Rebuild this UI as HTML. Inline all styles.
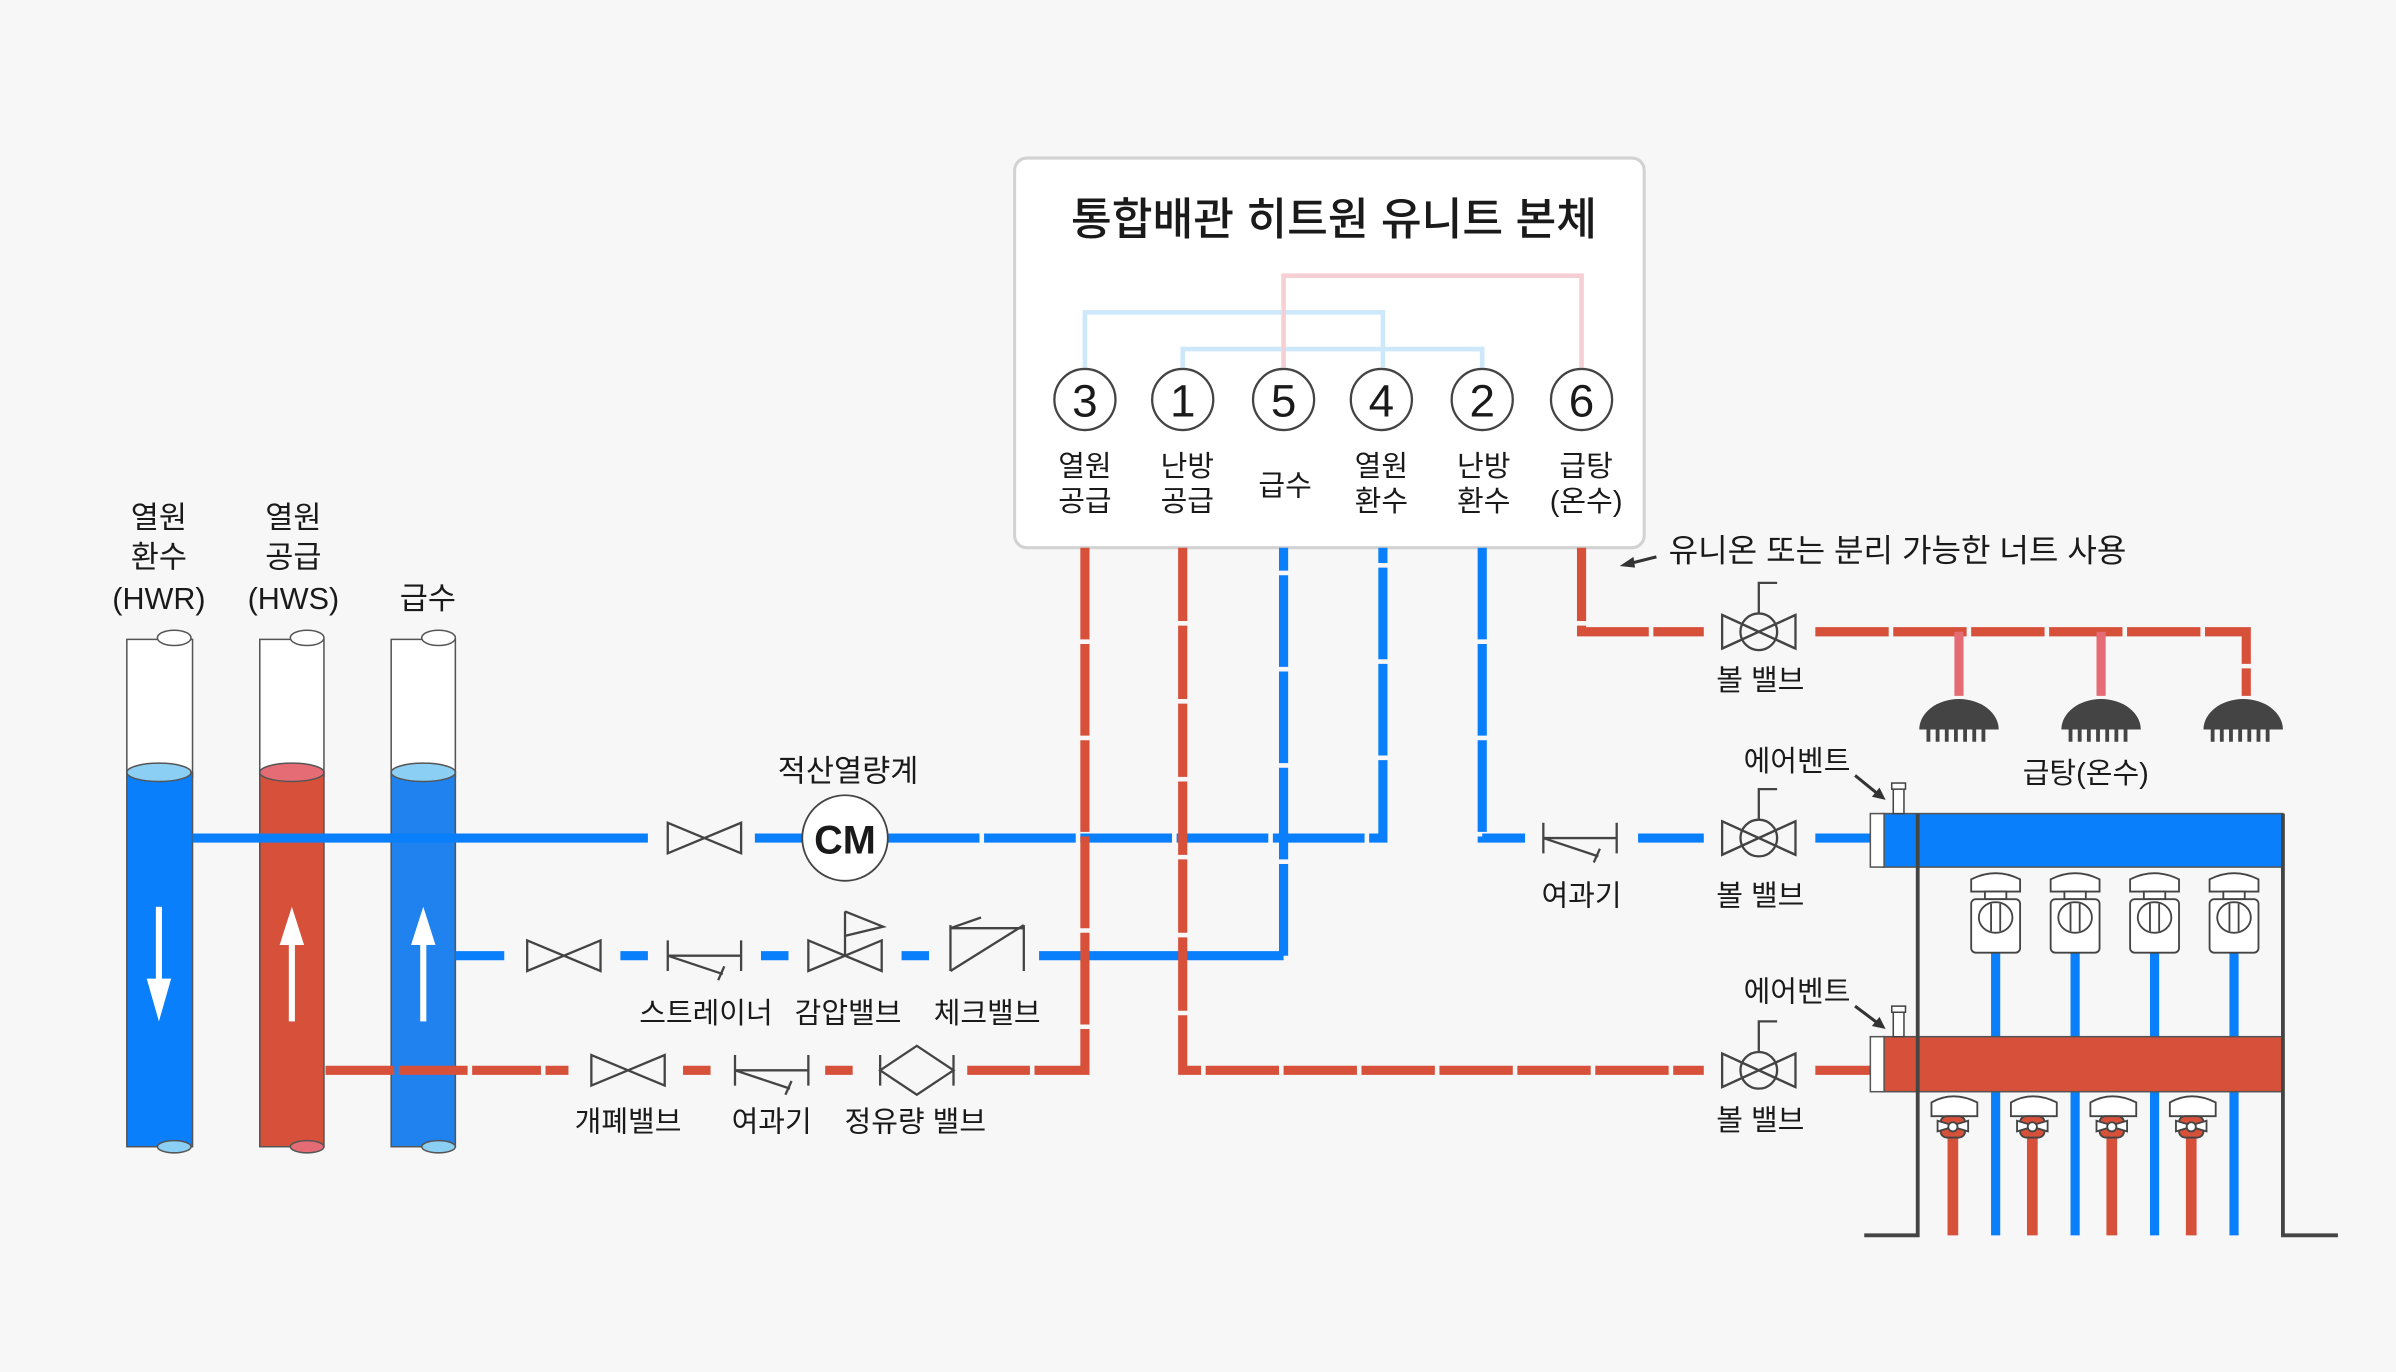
<!DOCTYPE html>
<html><head><meta charset="utf-8"><style>
html,body{margin:0;padding:0;background:#f7f7f7;}
svg{display:block}
text{font-family:"Liberation Sans","Noto Sans CJK KR",sans-serif;fill:#1a1a1a}
</style></head><body>
<svg width="2396" height="1372" viewBox="0 0 1568 897" xmlns="http://www.w3.org/2000/svg">
<defs>
<g id="bow"><path d="M0,-10 L48,10 L48,-10 L0,10 Z" fill="none" stroke="#444" stroke-width="1.5"/></g>
<g id="strainer" fill="none" stroke="#444" stroke-width="1.5"><path d="M0,-10V10M48,-10V10M0,0H48M0,0L36,12M33,16L37,7"/></g>
<g id="ball" fill="none" stroke="#444" stroke-width="1.5"><path d="M0,-11 L48,11 L48,-11 L0,11 Z" fill="#f7f7f7"/><circle cx="24" cy="0" r="12"/><path d="M0,-11 L48,11 M48,-11 L0,11"/><path d="M24,-12V-32H36"/></g>
</defs>
<rect width="1568" height="897" fill="#f7f7f7"/>
<rect x="664" y="103" width="412" height="255" rx="8" fill="#fff" stroke="#d2d2d2" stroke-width="2"/>
<text x="873" y="153" font-size="29" text-anchor="middle" font-weight="500">통합배관 히트원 유니트 본체</text>
<g fill="none" stroke-width="3">
<path d="M710,240V204H905V240" stroke="#cde8fa"/>
<path d="M774,240V228H970V240" stroke="#cde8fa"/>
<path d="M840,240V180H1035V240" stroke="#f6cfd5"/>
</g>
<g fill="#fff" stroke="#444" stroke-width="1.5">
<circle cx="710" cy="261" r="20"/><circle cx="774" cy="261" r="20"/><circle cx="840" cy="261" r="20"/><circle cx="904" cy="261" r="20"/><circle cx="970" cy="261" r="20"/><circle cx="1035" cy="261" r="20"/>
</g>
<g font-size="30" text-anchor="middle"><text x="710" y="272">3</text><text x="774" y="272">1</text><text x="840" y="272">5</text><text x="904" y="272">4</text><text x="970" y="272">2</text><text x="1035" y="272">6</text></g>
<g font-size="19" text-anchor="middle">
<text x="710" y="311">열원</text><text x="710" y="334">공급</text>
<text x="777" y="311">난방</text><text x="777" y="334">공급</text>
<text x="841" y="324">급수</text>
<text x="904" y="311">열원</text><text x="904" y="334">환수</text>
<text x="971" y="311">난방</text><text x="971" y="334">환수</text>
<text x="1038" y="311">급탕</text><text x="1038" y="334">(온수)</text>
</g>
<text x="1092" y="367" font-size="21">유니온 또는 분리 가능한 너트 사용</text>
<path d="M1084,364L1064,369" stroke="#333" stroke-width="2"/><path d="M1060,370l9,-6l1,7z" fill="#333"/>
<g stroke="#555" stroke-width="1">
<rect x="83" y="418" width="43" height="90" fill="#fff"/><rect x="83" y="505" width="43" height="245" fill="#0a7ffb"/>
<rect x="170" y="418" width="42" height="90" fill="#fff"/><rect x="170" y="505" width="42" height="245" fill="#d6503a"/>
<rect x="256" y="418" width="42" height="90" fill="#fff"/><rect x="256" y="505" width="42" height="245" fill="#1f82ee"/>
</g>
<g stroke="#555" stroke-width="1">
<ellipse cx="114" cy="417" rx="11" ry="5" fill="#fff"/><ellipse cx="201" cy="417" rx="11" ry="5" fill="#fff"/><ellipse cx="287" cy="417" rx="11" ry="5" fill="#fff"/>
<ellipse cx="104" cy="505" rx="21" ry="6" fill="#8ccff5"/><ellipse cx="191" cy="505" rx="21" ry="6" fill="#e56c74"/><ellipse cx="277" cy="505" rx="21" ry="6" fill="#8ccff5"/>
<ellipse cx="114" cy="750" rx="11" ry="4" fill="#8ccff5"/><ellipse cx="201" cy="750" rx="11" ry="4" fill="#e56c74"/><ellipse cx="287" cy="750" rx="11" ry="4" fill="#8ccff5"/>
</g>
<g fill="#fff"><rect x="102" y="593" width="4" height="50"/><path d="M96,640h16l-8,28z"/>
<rect x="189" y="615" width="4" height="53"/><path d="M183,618h16l-8,-25z"/>
<rect x="275" y="615" width="4" height="53"/><path d="M269,618h16l-8,-25z"/></g>
<g font-size="20" text-anchor="middle"><text x="104" y="345">열원</text><text x="104" y="371">환수</text><text x="104" y="398">(HWR)</text>
<text x="192" y="345">열원</text><text x="192" y="371">공급</text><text x="192" y="398">(HWS)</text><text x="280" y="398">급수</text></g>
<g fill="none" stroke-width="6" stroke-linecap="butt">
<path d="M126,548H424M494,548H525" stroke="#0a7ffb"/>
<path d="M581,548H905V358" stroke="#0a7ffb" stroke-dasharray="60 3"/>
<path d="M298,625H330M680,625H840" stroke="#0a7ffb"/>
<path d="M840,625V358" stroke="#0a7ffb" stroke-dasharray="60 3"/>
<path d="M970,358V548H998" stroke="#0a7ffb" stroke-dasharray="60 3"/>
<path d="M1072,548H1115M1188,548H1225" stroke="#0a7ffb"/>
<path d="M710,358V700H633" stroke="#d6503a" stroke-dasharray="60 3"/>
<path d="M213,700H372" stroke="#d6503a" stroke-dasharray="45 3"/>
<path d="M774,358V700H1115M1188,700H1225" stroke="#d6503a" stroke-dasharray="48 3"/>
<path d="M1035,358V413H1115M1188,413H1470V455" stroke="#d6503a" stroke-dasharray="48 3"/>
<path d="M1282,413V455M1375,413V455" stroke="#e56c74"/>
</g>
<g stroke="#0a7ffb" stroke-width="6"><path d="M406,625h18M498,625h18M590,625h18"/></g>
<g stroke="#d6503a" stroke-width="6"><path d="M447,700h18M540,700h18"/></g>
<use href="#bow" x="437" y="548"/>
<circle cx="553" cy="548" r="28" fill="#fff" stroke="#444" stroke-width="1.2"/>
<text x="553" y="558" font-size="26" text-anchor="middle" font-weight="bold">CM</text>
<text x="555" y="511" font-size="20" text-anchor="middle">적산열량계</text>
<use href="#bow" x="345" y="625"/>
<use href="#strainer" x="437" y="625"/>
<use href="#bow" x="529" y="625"/>
<path d="M553,625V596M553,596L578,606L553,612" fill="none" stroke="#444" stroke-width="1.5"/>
<path d="M622,635V605M670,635V605M622,635L670,605M622,607H670M622,607L642,600" fill="none" stroke="#444" stroke-width="1.5"/>
<g font-size="19" text-anchor="middle"><text x="462" y="669">스트레이너</text><text x="555" y="669">감압밸브</text><text x="646" y="669">체크밸브</text>
<text x="411" y="740">개폐밸브</text><text x="505" y="740">여과기</text><text x="599" y="740">정유량 밸브</text></g>
<use href="#bow" x="387" y="700"/>
<use href="#strainer" x="481" y="700"/>
<path d="M576,690V710M624,690V710M576,700L600,684L624,700L600,716Z" fill="none" stroke="#444" stroke-width="1.5"/>
<use href="#strainer" x="1010" y="548"/>
<text x="1035" y="592" font-size="19" text-anchor="middle">여과기</text>
<use href="#ball" x="1127" y="413"/><use href="#ball" x="1127" y="548"/><use href="#ball" x="1127" y="700"/>
<g font-size="19" text-anchor="middle"><text x="1152" y="451">볼 밸브</text><text x="1152" y="592">볼 밸브</text><text x="1152" y="739">볼 밸브</text>
<text x="1365" y="512">급탕(온수)</text><text x="1176" y="504">에어벤트</text><text x="1176" y="655">에어벤트</text></g>
<g fill="#444">
<path d="M1256,477a26,20 0 0 1 52,0z"/><path d="M1349,477a26,20 0 0 1 52,0z"/><path d="M1442,477a26,20 0 0 1 52,0z"/>
</g>
<g stroke="#444" stroke-width="2.5"><path d="M1262,477v8M1268,477v8M1274,477v8M1280,477v8M1286,477v8M1292,477v8M1298,477v8M1355,477v8M1361,477v8M1367,477v8M1373,477v8M1379,477v8M1385,477v8M1391,477v8M1448,477v8M1454,477v8M1460,477v8M1466,477v8M1472,477v8M1478,477v8M1484,477v8"/></g>
<g stroke-width="6"><path d="M1306,620V808M1358,620V808M1410,620V808M1462,620V808" stroke="#0a7ffb"/>
<path d="M1278,740V808M1330,740V808M1382,740V808M1434,740V808" stroke="#d6503a" stroke-width="7"/></g>
<rect x="1232" y="532" width="262" height="35" fill="#0a7ffb" stroke="#555"/>
<rect x="1232" y="678" width="262" height="36" fill="#d6503a" stroke="#555"/>
<rect x="1224" y="532" width="9" height="35" fill="#fff" stroke="#555"/>
<rect x="1224" y="678" width="9" height="36" fill="#fff" stroke="#555"/>
<g fill="#fff" stroke="#444" stroke-width="1"><rect x="1239" y="515" width="7" height="17"/><rect x="1238" y="512" width="9" height="4"/><rect x="1239" y="661" width="7" height="17"/><rect x="1238" y="658" width="9" height="4"/></g>
<g stroke="#333" stroke-width="2"><path d="M1214,507L1230,520M1214,658L1230,670"/></g>
<path d="M1234,523l-9,-2l5,-6zM1234,673l-9,-2l5,-6z" fill="#333"/>
<g fill="#fff" stroke="#444" stroke-width="1.2">
<g id="sv"><path d="M1290,575q16,-8 32,0v8h-32z"/><rect x="1299" y="583" width="14" height="5"/><rect x="1290" y="588" width="32" height="35" rx="3"/><ellipse cx="1306" cy="600" rx="11" ry="10"/><path d="M1303,591v18M1309,591v18"/></g>
<use href="#sv" x="52"/><use href="#sv" x="104"/><use href="#sv" x="156"/>
<g id="rv"><path d="M1264,721q14,-8 30,0v9h-30z"/><rect x="1270" y="730" width="16" height="14" rx="4" fill="#d6503a"/><path d="M1268,733l10,3l10,-3v7l-10,-3l-10,3z"/><circle cx="1278" cy="737" r="3"/></g>
<use href="#rv" x="52"/><use href="#rv" x="104"/><use href="#rv" x="156"/>
</g>
<g fill="none" stroke="#444" stroke-width="2.5"><path d="M1255,532V808H1220M1494,532V808H1530"/></g>
</svg>
</body></html>
